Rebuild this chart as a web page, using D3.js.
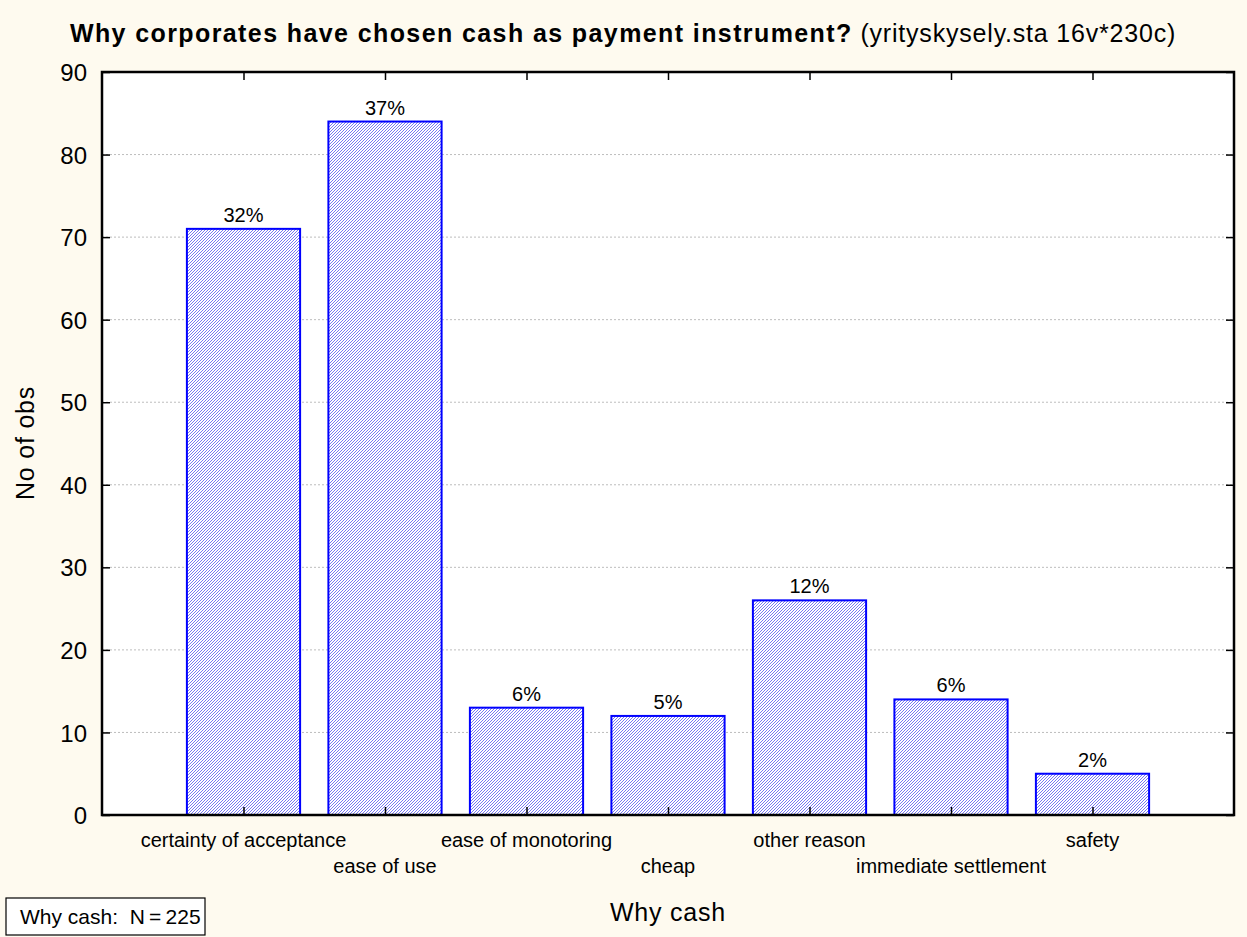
<!DOCTYPE html>
<html><head><meta charset="utf-8">
<script src="https://cdn.jsdelivr.net/npm/d3@7"></script>
<style>
html,body{margin:0;padding:0;background:#fefaef;}
text{font-family:"Liberation Sans",Arial,sans-serif;fill:#000;}
</style></head>
<body>
<svg id="chart" width="1247" height="937"></svg>
<script>
const categories = ["certainty of acceptance","ease of use","ease of monotoring","cheap","other reason","immediate settlement","safety"];
const counts = [71, 84, 13, 12, 26, 14, 5];
const percentLabels = ["32%","37%","6%","5%","12%","6%","2%"];
const yTicks = [0,10,20,30,40,50,60,70,80,90];
const titleBold = "Why corporates have chosen cash as payment instrument?";
const titleNormal = " (yrityskysely.sta 16v*230c)";
const xTitle = "Why cash";
const yTitle = "No of obs";
const legendText = "Why cash:  N\u2009=\u2009225";

const svg = d3.select("#chart");
const W = 1247, H = 937;
const m = {left:102, top:72, right:1234, bottom:815};

svg.append("rect").attr("width",W).attr("height",H).attr("fill","#fefaef");

const defs = svg.append("defs");
const pat = defs.append("pattern").attr("id","hatch").attr("patternUnits","userSpaceOnUse")
  .attr("width",3).attr("height",3);
pat.append("rect").attr("width",3).attr("height",3).attr("fill","#ffffff");
pat.append("path").attr("d","M-1,1 L1,-1 M0,3 L3,0 M2,4 L4,2").attr("stroke","#6060f0").attr("stroke-width",0.85);

const x = d3.scaleLinear().domain([0, categories.length+1]).range([m.left, m.right]);
const y = d3.scaleLinear().domain([0, 90]).range([m.bottom, m.top]);
const step = x(1)-x(0);
const bw = step*0.8;

svg.append("rect").attr("x",m.left).attr("y",m.top).attr("width",m.right-m.left).attr("height",m.bottom-m.top).attr("fill","#ffffff");

svg.append("g").selectAll("line").data(yTicks.filter(d=>d>0&&d<90)).join("line")
  .attr("x1",m.left).attr("x2",m.right).attr("y1",d=>y(d)).attr("y2",d=>y(d))
  .attr("stroke","#bdbdbd").attr("stroke-width",1).attr("stroke-dasharray","2,2");

svg.append("g").selectAll("rect").data(counts).join("rect")
  .attr("x",(d,i)=>x(i+1)-bw/2).attr("y",d=>y(d))
  .attr("width",bw).attr("height",d=>y(0)-y(d))
  .attr("fill","url(#hatch)").attr("stroke","#0000ff").attr("stroke-width",2);

svg.append("g").selectAll("text").data(counts).join("text")
  .attr("x",(d,i)=>x(i+1)).attr("y",d=>y(d)-7)
  .attr("text-anchor","middle").attr("font-size",20)
  .text((d,i)=>percentLabels[i]);

const catTicks = d3.range(1, categories.length+1);
svg.append("g").attr("transform",`translate(0,${m.bottom})`)
  .call(d3.axisBottom(x).tickValues(catTicks).tickSize(-8).tickFormat(""))
  .call(g=>g.select(".domain").remove())
  .selectAll("line").attr("stroke","#000").attr("stroke-width",1.5);
svg.append("g").attr("transform",`translate(0,${m.top})`)
  .call(d3.axisTop(x).tickValues(catTicks).tickSize(-8).tickFormat(""))
  .call(g=>g.select(".domain").remove())
  .selectAll("line").attr("stroke","#000").attr("stroke-width",1.5);
const yl = svg.append("g").attr("transform",`translate(${m.left},0)`)
  .call(d3.axisLeft(y).tickValues(yTicks).tickSize(-8).tickPadding(15).tickFormat(d3.format("d")));
yl.select(".domain").remove();
yl.selectAll("line").attr("stroke","#000").attr("stroke-width",1.5);
yl.selectAll("text").attr("font-size",24).attr("font-family","Liberation Sans, Arial, sans-serif").attr("fill","#000").attr("dy","0.36em");
const yr = svg.append("g").attr("transform",`translate(${m.right},0)`)
  .call(d3.axisRight(y).tickValues(yTicks).tickSize(-8).tickFormat(""));
yr.select(".domain").remove();
yr.selectAll("line").attr("stroke","#000").attr("stroke-width",1.5);

svg.append("rect").attr("x",m.left).attr("y",m.top).attr("width",m.right-m.left).attr("height",m.bottom-m.top)
  .attr("fill","none").attr("stroke","#000").attr("stroke-width",2.5);

svg.append("g").selectAll("text").data(categories).join("text")
  .attr("x",(d,i)=>x(i+1)).attr("y",(d,i)=> i%2===0 ? 847 : 873)
  .attr("text-anchor","middle").attr("font-size",20).text(d=>d);

const t = svg.append("text").attr("x",623).attr("y",42).attr("text-anchor","middle").attr("font-size",25);
t.append("tspan").attr("font-weight","bold").attr("letter-spacing",1.4).text(titleBold);
t.append("tspan").attr("letter-spacing",0.8).text(titleNormal);

svg.append("text").attr("x",668).attr("y",921).attr("text-anchor","middle").attr("font-size",25).attr("letter-spacing",0.8).text(xTitle);
svg.append("text").attr("transform","translate(34,443) rotate(-90)").attr("text-anchor","middle").attr("font-size",25).attr("letter-spacing",0.8).text(yTitle);

svg.append("rect").attr("x",6).attr("y",898).attr("width",199).attr("height",37).attr("fill","#ffffff").attr("stroke","#000").attr("stroke-width",1.2);
svg.append("text").attr("x",20).attr("y",924).attr("font-size",21).style("white-space","pre").text(legendText);
</script>
</body></html>
